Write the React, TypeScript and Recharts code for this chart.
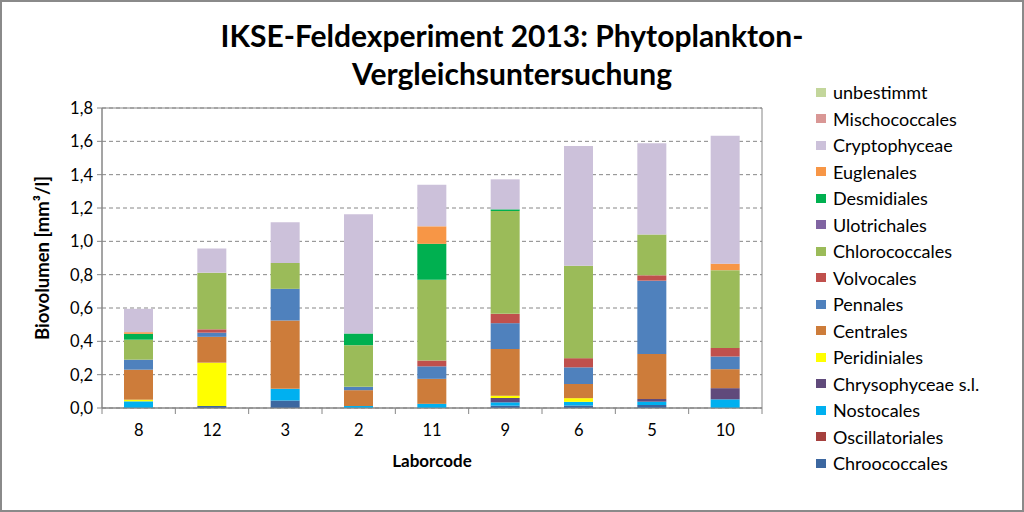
import {
  BarChart,
  Bar,
  XAxis,
  YAxis,
  CartesianGrid,
  ReferenceArea,
} from 'recharts'

const categories = ['8', '12', '3', '2', '11', '9', '6', '5', '10']

// one array per group, bottom of the stack first
const chroococcales = [0, 0.012, 0.045, 0, 0, 0.014, 0.015, 0.018, 0]
const oscillatoriales = [0, 0, 0, 0, 0, 0, 0, 0, 0]
const nostocales = [0.04, 0, 0.07, 0.012, 0.025, 0.02, 0.022, 0.02, 0.052]
const chrysophyceae = [0, 0, 0, 0, 0, 0.026, 0, 0.016, 0.067]
const peridiniales = [0.01, 0.26, 0, 0, 0, 0.014, 0.022, 0, 0]
const centrales = [0.18, 0.155, 0.41, 0.095, 0.15, 0.28, 0.085, 0.27, 0.114]
const pennales = [0.06, 0.025, 0.19, 0.02, 0.075, 0.155, 0.1, 0.44, 0.076]
const volvocales = [0, 0.02, 0, 0, 0.035, 0.056, 0.055, 0.032, 0.051]
const chlorococcales = [0.12, 0.34, 0.155, 0.25, 0.485, 0.617, 0.555, 0.245, 0.467]
const ulotrichales = [0, 0, 0, 0, 0, 0, 0, 0, 0]
const desmidiales = [0.035, 0, 0, 0.07, 0.215, 0.01, 0, 0, 0]
const euglenales = [0.01, 0, 0, 0, 0.105, 0, 0, 0, 0.039]
const cryptophyceae = [0.14, 0.145, 0.245, 0.715, 0.25, 0.18, 0.718, 0.548, 0.768]
const mischococcales = [0, 0, 0, 0, 0, 0, 0, 0, 0]
const unbestimmt = [0, 0, 0, 0, 0, 0, 0, 0, 0]

const yTicks = [0, 0.2, 0.4, 0.6, 0.8, 1.0, 1.2, 1.4, 1.6, 1.8]

const series = [
  { key: 'Chroococcales', values: chroococcales, color: '#3C67A0' },
  { key: 'Oscillatoriales', values: oscillatoriales, color: '#A5403E' },
  { key: 'Nostocales', values: nostocales, color: '#00B0F0' },
  { key: 'Chrysophyceae s.l.', values: chrysophyceae, color: '#604A7B' },
  { key: 'Peridiniales', values: peridiniales, color: '#FFFF00' },
  { key: 'Centrales', values: centrales, color: '#CD7C3A' },
  { key: 'Pennales', values: pennales, color: '#4F81BD' },
  { key: 'Volvocales', values: volvocales, color: '#C0504D' },
  { key: 'Chlorococcales', values: chlorococcales, color: '#9BBB59' },
  { key: 'Ulotrichales', values: ulotrichales, color: '#8064A2' },
  { key: 'Desmidiales', values: desmidiales, color: '#00B050' },
  { key: 'Euglenales', values: euglenales, color: '#F79646' },
  { key: 'Cryptophyceae', values: cryptophyceae, color: '#CCC1DA' },
  { key: 'Mischococcales', values: mischococcales, color: '#D99795' },
  { key: 'unbestimmt', values: unbestimmt, color: '#C3D69B' },
]

const data = categories.map((c, i) => {
  const row: Record<string, string | number> = { code: c }
  series.forEach((s) => {
    row[s.key] = s.values[i]
  })
  return row
})

const FONT = 'Lato, "Open Sans", sans-serif'
const AXIS = '#868686'
const TICK_SIZE = 5
const TICK_MARGIN = 11

const CategoryTick = (props: any) => {
  const { x, y, payload, index } = props
  const half = payload?.offset ?? 36.7
  const axisY = y - TICK_SIZE - TICK_MARGIN
  return (
    <g>
      <line x1={x - half} x2={x - half} y1={axisY} y2={axisY + 6} stroke={AXIS} />
      {index === categories.length - 1 && (
        <line x1={x + half} x2={x + half} y1={axisY} y2={axisY + 6} stroke={AXIS} />
      )}
      <text x={x} y={y} dy="0.71em" textAnchor="middle" fill="#000" fontSize={16.5} fontFamily={FONT}>
        {payload.value}
      </text>
    </g>
  )
}

export default function App() {
  const legendItems = [...series].reverse()
  return (
    <div
      style={{
        position: 'absolute',
        left: 0,
        top: 0,
        width: 1024,
        height: 512,
        background: '#fff',
        fontFamily: FONT,
      }}
    >
      <BarChart
        width={1024}
        height={512}
        data={data}
        margin={{ top: 108, right: 262, left: 0, bottom: 44 }}
        barSize={29}
      >
        <CartesianGrid vertical={false} stroke={AXIS} strokeDasharray="4 3" />
        <ReferenceArea y1={0} y2={1.8} fill="none" stroke={AXIS} strokeWidth={1} />
        <XAxis
          dataKey="code"
          height={60}
          tickLine={false}
          tickSize={TICK_SIZE}
          tickMargin={TICK_MARGIN}
          axisLine={{ stroke: AXIS }}
          tick={<CategoryTick />}
          interval={0}
          label={{
            value: 'Laborcode',
            position: 'insideBottom',
            offset: 1,
            style: { fontWeight: 700, fontSize: 17, fill: '#000', fontFamily: FONT },
          }}
        />
        <YAxis
          width={102}
          domain={[0, 1.8]}
          ticks={yTicks}
          interval={0}
          tickSize={TICK_SIZE}
          tickMargin={4}
          axisLine={{ stroke: AXIS }}
          tickLine={{ stroke: AXIS }}
          tick={{ fill: '#000', fontSize: 16.5, fontFamily: FONT }}
          tickFormatter={(v: number) => v.toFixed(1).replace('.', ',')}
          label={{
            value: 'Biovolumen [mm³/l]',
            angle: -90,
            position: 'insideLeft',
            offset: 42,
            style: { textAnchor: 'middle', fontWeight: 700, fontSize: 18.5, fill: '#000', fontFamily: FONT },
          }}
        />
        {series.map((s) => (
          <Bar key={s.key} dataKey={s.key} stackId="a" fill={s.color} isAnimationActive={false} />
        ))}
      </BarChart>

      <div
        style={{
          position: 'absolute',
          left: 0,
          top: 16,
          width: 1024,
          textAlign: 'center',
          fontWeight: 700,
          fontSize: 30,
          lineHeight: '38px',
          color: '#000',
        }}
      >
        <div>IKSE-Feldexperiment 2013: Phytoplankton-</div>
        <div>Vergleichsuntersuchung</div>
      </div>

      <div style={{ position: 'absolute', left: 816, top: 79 }}>
        {legendItems.map((s) => (
          <div
            key={s.key}
            style={{ display: 'flex', alignItems: 'center', height: 26.5, fontSize: 18, color: '#000' }}
          >
            <span
              style={{ display: 'inline-block', width: 10, height: 9, background: s.color, marginRight: 7 }}
            />
            <span>{s.key}</span>
          </div>
        ))}
      </div>

      <div
        style={{
          position: 'absolute',
          inset: 0,
          border: '2px solid #8a8a8a',
          pointerEvents: 'none',
        }}
      />
    </div>
  )
}
